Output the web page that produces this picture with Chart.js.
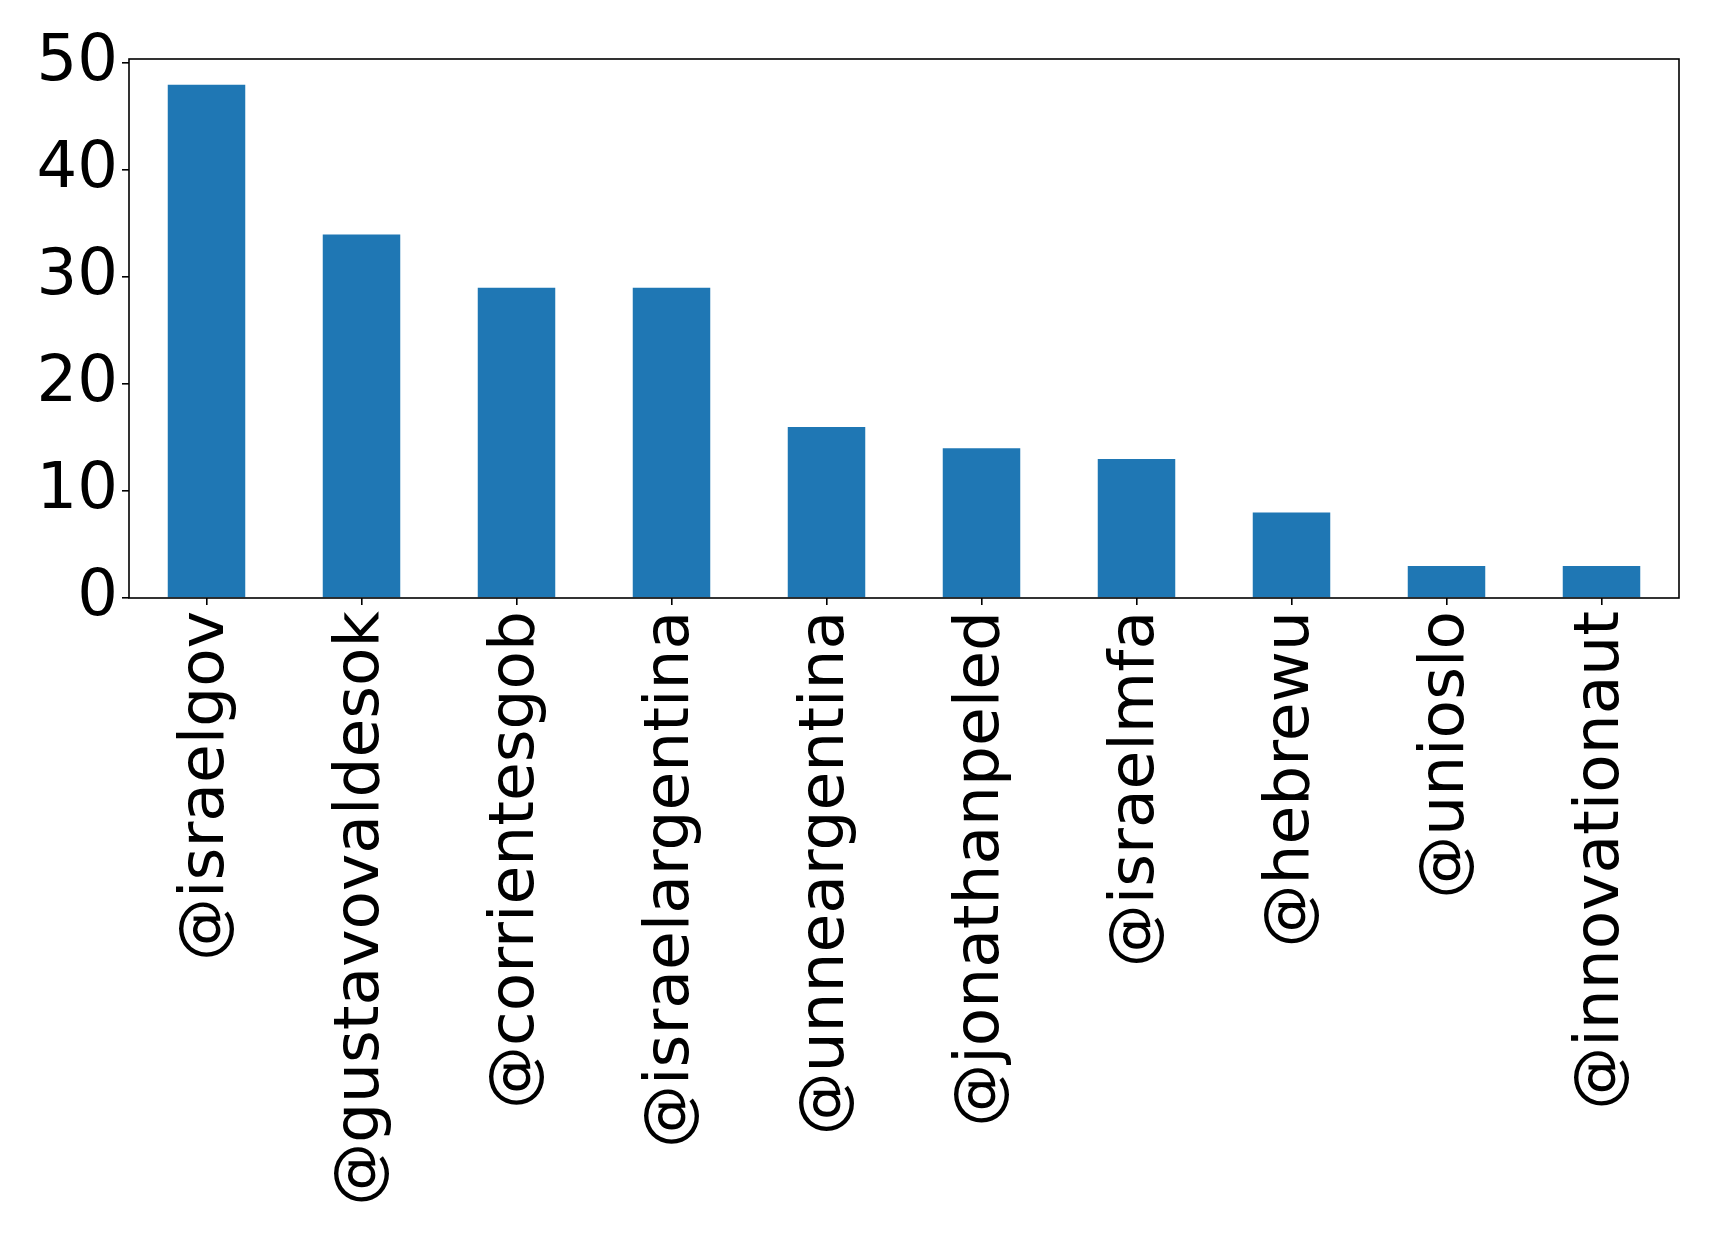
<!DOCTYPE html>
<html>
<head>
<meta charset="utf-8">
<script src="https://cdn.jsdelivr.net/npm/chart.js@4"></script>
<style>
  html, body { margin: 0; padding: 0; background: #fff; }
  #wrap { width: 1719px; height: 1237px; }
</style>
</head>
<body>
<div id="wrap"><canvas id="barChart"></canvas></div>
<script>
// data
const accounts = ['@israelgov', '@gustavovaldesok', '@corrientesgob', '@israelargentina',
  '@unneargentina', '@jonathanpeled', '@israelmfa', '@hebrewu', '@unioslo', '@innovationaut'];
const counts = [48, 34, 29, 29, 16, 14, 13, 8, 3, 3];
const yTicks = [0, 10, 20, 30, 40, 50];

// frame round the plot area (matplotlib style box)
const frame = {
  id: 'frame',
  afterDraw(c) {
    const a = c.chartArea, g = c.ctx;
    g.save();
    g.strokeStyle = '#000';
    g.lineWidth = 1.6;
    g.strokeRect(a.left, a.top, a.right - a.left, a.bottom - a.top);
    g.restore();
  }
};

const ctx = document.getElementById('barChart').getContext('2d');
new Chart(ctx, {
  type: 'bar',
  data: {
    labels: accounts,
    datasets: [{
      data: counts,
      backgroundColor: '#1f77b4',
      borderWidth: 0,
      barPercentage: 0.5,
      categoryPercentage: 1
    }]
  },
  options: {
    responsive: true,
    maintainAspectRatio: false,
    animation: false,
    layout: { padding: { top: 59, right: 40, left: 0, bottom: 0 } },
    plugins: { legend: { display: false }, tooltip: { enabled: false } },
    scales: {
      x: {
        grid: { offset: false, drawOnChartArea: false, drawTicks: true, tickLength: 7, color: '#000', lineWidth: 1.6 },
        border: { display: false },
        ticks: {
          color: '#000',
          font: { family: 'DejaVu Sans', size: 63 },
          minRotation: 90, maxRotation: 90,
          padding: 6,
          autoSkip: false
        },
        afterFit: s => { s.height = 1237 - 598; }
      },
      y: {
        min: 0,
        max: 50.4,
        grid: { drawOnChartArea: false, drawTicks: true, tickLength: 7, color: '#000', lineWidth: 1.6 },
        border: { display: false },
        ticks: {
          color: '#000',
          font: { family: 'DejaVu Sans', size: 64 },
          padding: 4
        },
        afterBuildTicks: s => { s.ticks = yTicks.map(v => ({ value: v })); },
        afterFit: s => { s.width = 129; }
      }
    }
  },
  plugins: [frame]
});
</script>
</body>
</html>
